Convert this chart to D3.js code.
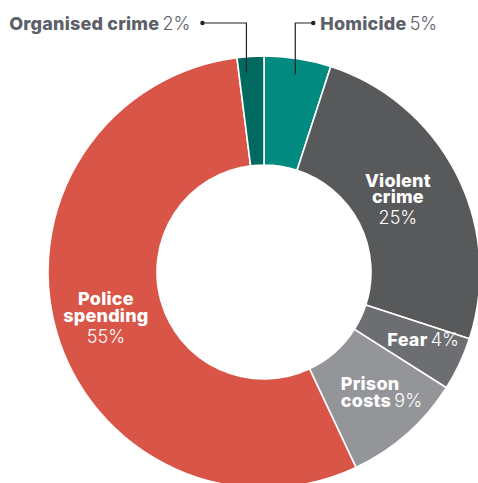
<!DOCTYPE html>
<html><head><meta charset="utf-8">
<script src="https://cdn.jsdelivr.net/npm/d3@7"></script>
<style>
html,body{margin:0;padding:0;background:#fff;}
svg{display:block;font-family:Inter,"Noto Sans",sans-serif;}
</style></head>
<body>
<svg id="chart" width="478" height="483"></svg>
<script>
const categories = ["Homicide", "Violent crime", "Fear", "Prison costs", "Police spending", "Organised crime"];
const shares = [5, 25, 4, 9, 55, 2];
const labelLines = [["Homicide"], ["Violent", "crime"], ["Fear"], ["Prison", "costs"], ["Police", "spending"], ["Organised crime"]];
const colors = ["#008a80", "#58595b", "#6d6e71", "#949598", "#d95548", "#006a60"];

const W = 478, H = 483, cx = 264, cy = 272, R = 216, r = 107;
const svg = d3.select("#chart");
const g = svg.append("g").attr("transform", `translate(${cx},${cy})`);

const data = categories.map((c, i) => ({ name: c, value: shares[i], lines: labelLines[i], color: colors[i] }));
const pie = d3.pie().value(d => d.value).sort(null).startAngle(0).endAngle(2 * Math.PI);
const arcs = pie(data);
const arc = d3.arc().innerRadius(r).outerRadius(R);
const labelArc = d3.arc().innerRadius((r + R) / 2).outerRadius((r + R) / 2);

g.selectAll("path.slice").data(arcs).enter().append("path")
  .attr("class", "slice")
  .attr("d", arc)
  .attr("fill", d => d.data.color)
  .attr("stroke", "#fff").attr("stroke-width", 1.6);

const FS = 18, LS = 0.2;
// inside labels
const inside = {
  "Violent crime": { dx: -10, dy: -12, anchor: "middle", pctLine: true },
  "Fear": { dx: 13, dy: 5, anchor: "middle", pctLine: false },
  "Prison costs": { dx: -30, dy: -3, anchor: "start", pctLine: false },
  "Police spending": { dx: -3, dy: -12, anchor: "middle", pctLine: true }
};
arcs.forEach(a => {
  const cfg = inside[a.data.name];
  if (!cfg) return;
  const [x, y] = labelArc.centroid(a);
  const lines = a.data.lines;
  lines.forEach((ln, i) => {
    const t = g.append("text")
      .attr("x", x + cfg.dx).attr("y", y + cfg.dy + i * 16.5)
      .attr("text-anchor", cfg.anchor)
      .attr("fill", "#fff").attr("font-size", FS);
    t.append("tspan").attr("font-weight", 800).attr("letter-spacing", LS).text(ln);
    if (!cfg.pctLine && i === lines.length - 1) {
      t.append("tspan").attr("font-weight", 300).text("\u2009" + a.data.value + "%");
    }
  });
  if (cfg.pctLine) {
    g.append("text")
      .attr("x", x + cfg.dx).attr("y", y + cfg.dy + (lines.length - 1) * 16.5 + 21)
      .attr("text-anchor", cfg.anchor)
      .attr("fill", "#fff").attr("font-size", FS).attr("font-weight", 300)
      .text(a.data.value + "%");
  }
});

// outer labels with leaders
const outer = {
  "Homicide": { dx: 0, side: 1, elbowX: 18, textGap: 7 },
  "Organised crime": { dx: -5, side: -1, elbowX: 44, textGap: 12 }
};
const leaderY = -249;
arcs.forEach(a => {
  const cfg = outer[a.data.name];
  if (!cfg) return;
  const p = d3.arc().innerRadius(200).outerRadius(200).centroid(a);
  const x0 = p[0] + cfg.dx, y0 = p[1];
  const x1 = x0 + cfg.side * cfg.elbowX;
  g.append("path").attr("d", `M${x0},${y0}V${leaderY}H${x1}`)
    .attr("fill", "none").attr("stroke", "#222").attr("stroke-width", 1.2);
  g.append("circle").attr("cx", x1).attr("cy", leaderY).attr("r", 2.2).attr("fill", "#222");
  const t = g.append("text").attr("x", x1 + cfg.side * cfg.textGap).attr("y", leaderY + 7)
    .attr("text-anchor", cfg.side > 0 ? "start" : "end")
    .attr("fill", "#5b6069").attr("font-size", FS);
  t.append("tspan").attr("font-weight", 800).attr("letter-spacing", LS).text(a.data.lines[0]);
  t.append("tspan").attr("font-weight", 300).text("\u2009" + a.data.value + "%");
});
</script>
</body></html>
